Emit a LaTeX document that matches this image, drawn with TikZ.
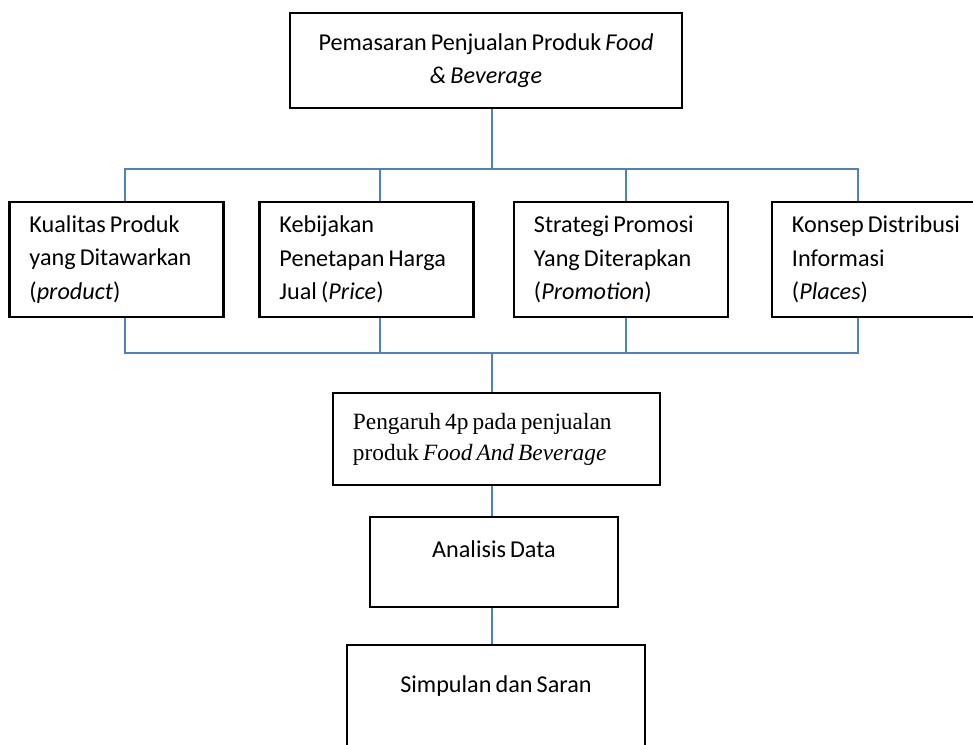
\documentclass[tikz,border=0pt]{standalone}
\usepackage{fontspec}
\setmainfont[WordSpace=0.75]{Carlito}
\newfontfamily\serifbox[WordSpace=0.7]{Liberation Serif}
\usepackage{tikz}
\usetikzlibrary{positioning, calc}
\definecolor{linkblue}{HTML}{4F81BD}

\begin{document}
\begin{tikzpicture}[x=0.025cm, y=-0.025cm,
    box/.style={draw, line width=2pt, inner sep=0pt, inner xsep=0.5cm, font=\fontsize{17.2}{23.8}\selectfont},
    item/.style={box, minimum width=5.35cm, minimum height=2.875cm, text width=4.35cm, align=flush left},
    link/.style={draw=linkblue, line width=0.9pt}]

        % Page frame
        \clip (0,0) rectangle (973,744);

        % Position of the spine and the two buses
        \pgfmathsetmacro{\spine}{492}
        \coordinate (upbus) at (\spine,169);
        \coordinate (lowbus) at (\spine,353);

        % Top box
        \node[box, minimum width=9.8cm, minimum height=2.375cm, align=center] (pemasaran) at (486,60.5)
            {Pemasaran Penjualan Produk \textit{Food}\\ \textit{\& Beverage}};

        % The 4p boxes
        \node[item] (kualitas) at (116.5,259.5) {Kualitas Produk\\ yang Ditawarkan\\ (\textit{product})};
        \node[item] (kebijakan) at (366.5,259.5) {Kebijakan\\ Penetapan Harga\\ Jual (\textit{Price})};
        \node[item] (strategi) at (621,259.5) {Strategi Promosi\\ Yang Diterapkan\\ (\textit{Promotion})};
        \node[item] (konsep) at (879,259.5) {Konsep Distribusi\\ Informasi\\ (\textit{Places})};

        % Lower boxes
        \node[box, minimum width=8.175cm, minimum height=2.3cm, text width=7.175cm, align=flush left,
              font=\serifbox\fontsize{16.6}{22}\selectfont] (pengaruh) at (496.5,439)
            {Pengaruh 4p pada penjualan\\ produk \textit{Food And Beverage}};
        \node[box, minimum width=6.2cm, minimum height=2.25cm, align=center] (analisis) at (494,562)
            {Analisis Data\\[-12pt] \strut};
        \node[box, minimum width=7.45cm, minimum height=2.825cm, align=center] (simpulan) at (496,701.5)
            {Simpulan dan Saran\\[-6pt] \strut};

        % Connectors
        \draw[link] (pemasaran.south -| upbus) -- (upbus);
        \foreach \n/\dx in {kualitas/8.5, kebijakan/13.5, strategi/5, konsep/-21} {
          \draw[link] ($(\n.north)+(\dx,0)$) |- (upbus);
          \draw[link] ($(\n.south)+(\dx,0)$) |- (lowbus);
        }
        \draw[link] (lowbus) -- (pengaruh.north -| lowbus);
        \draw[link] (pengaruh.south -| lowbus) -- (analisis.north -| lowbus);
        \draw[link] (analisis.south -| lowbus) -- (simpulan.north -| lowbus);
    \end{tikzpicture}
\end{document}
